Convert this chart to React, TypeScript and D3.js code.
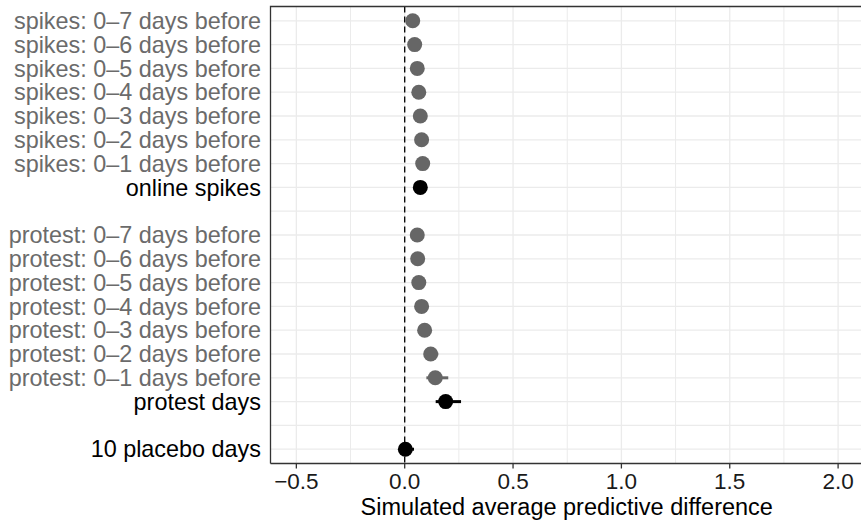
import { useRef, useEffect } from 'react';
import * as d3 from 'd3';

// rows top to bottom; "" marks an empty spacer row
const rowLabels = [
  "spikes: 0–7 days before",
  "spikes: 0–6 days before",
  "spikes: 0–5 days before",
  "spikes: 0–4 days before",
  "spikes: 0–3 days before",
  "spikes: 0–2 days before",
  "spikes: 0–1 days before",
  "online spikes",
  "",
  "protest: 0–7 days before",
  "protest: 0–6 days before",
  "protest: 0–5 days before",
  "protest: 0–4 days before",
  "protest: 0–3 days before",
  "protest: 0–2 days before",
  "protest: 0–1 days before",
  "protest days",
  "",
  "10 placebo days",
];
const estimates = [0.037, 0.046, 0.058, 0.065, 0.072, 0.078, 0.083, 0.072, null,
  0.058, 0.060, 0.065, 0.078, 0.092, 0.120, 0.141, 0.189, null, 0.003];
const lower = [0.015, 0.025, 0.035, 0.042, 0.050, 0.055, 0.060, 0.050, null,
  0.035, 0.038, 0.042, 0.052, 0.065, 0.090, 0.100, 0.143, null, -0.025];
const upper = [0.060, 0.068, 0.080, 0.088, 0.095, 0.100, 0.110, 0.095, null,
  0.082, 0.085, 0.090, 0.105, 0.120, 0.155, 0.201, 0.260, null, 0.043];
// which rows are the main (black) estimates
const isMain = [false, false, false, false, false, false, false, true, false,
  false, false, false, false, false, false, false, true, false, true];
const xTicks = [-0.5, 0, 0.5, 1.0, 1.5, 2.0];
const xMinor = [-0.25, 0.25, 0.75, 1.25, 1.75];
const xTitle = "Simulated average predictive difference";

const W = 861;
const H = 524;

const App = () => {
  const ref = useRef(null);

  useEffect(() => {
    d3.select(ref.current).selectAll("*").remove();
    const svg = d3.select(ref.current);

    const left = 270.5;
    const right = 863;
    const top = 6.5;
    const bottom = 463.5;
    const font = "'Liberation Sans', Arial, Helvetica, sans-serif";

    // 0 sits at 404.7 and 1 unit is ~216.7px
    const unit = 216.7;
    const x = d3.scaleLinear()
      .domain([(left - 404.7) / unit, (right - 404.7) / unit])
      .range([left, right]);

    const y = d3.scalePoint()
      .domain(d3.range(rowLabels.length).map(String))
      .range([top, bottom])
      .padding(0.6);

    svg.append("rect")
      .attr("x", left).attr("y", top)
      .attr("width", right - left).attr("height", bottom - top)
      .attr("fill", "#fff");

    // grid
    const grid = svg.append("g");
    grid.selectAll(".minor")
      .data(xMinor)
      .join("line")
      .attr("x1", d => x(d)).attr("x2", d => x(d))
      .attr("y1", top).attr("y2", bottom)
      .attr("stroke", "#ebebeb").attr("stroke-width", 1);
    grid.selectAll(".major")
      .data(xTicks)
      .join("line")
      .attr("x1", d => x(d)).attr("x2", d => x(d))
      .attr("y1", top).attr("y2", bottom)
      .attr("stroke", "#ebebeb").attr("stroke-width", 1.3);
    grid.selectAll(".hgrid")
      .data(rowLabels.map((_, i) => i))
      .join("line")
      .attr("x1", left).attr("x2", right)
      .attr("y1", i => y(String(i))).attr("y2", i => y(String(i)))
      .attr("stroke", "#ebebeb").attr("stroke-width", 1.3);

    // reference line at zero
    svg.append("line")
      .attr("x1", x(0)).attr("x2", x(0))
      .attr("y1", top).attr("y2", bottom)
      .attr("stroke", "#000")
      .attr("stroke-width", 1.3)
      .attr("stroke-dasharray", "6,4");

    const rows = rowLabels
      .map((label, i) => ({ label, i, est: estimates[i], lo: lower[i], hi: upper[i], main: isMain[i] }))
      .filter(d => d.est !== null);

    // intervals
    svg.append("g")
      .selectAll("line")
      .data(rows)
      .join("line")
      .attr("x1", d => x(d.lo)).attr("x2", d => x(d.hi))
      .attr("y1", d => y(String(d.i))).attr("y2", d => y(String(d.i)))
      .attr("stroke", d => d.main ? "#000" : "#666666")
      .attr("stroke-width", 3);

    // points
    svg.append("g")
      .selectAll("circle")
      .data(rows)
      .join("circle")
      .attr("cx", d => x(d.est))
      .attr("cy", d => y(String(d.i)))
      .attr("r", 7.5)
      .attr("fill", d => d.main ? "#000" : "#666666");

    // panel border (left, top) and axis line
    svg.append("path")
      .attr("d", `M${left},${bottom}V${top}H${right}`)
      .attr("fill", "none")
      .attr("stroke", "#333333")
      .attr("stroke-width", 1.3);
    svg.append("line")
      .attr("x1", left).attr("x2", right)
      .attr("y1", bottom).attr("y2", bottom)
      .attr("stroke", "#333333")
      .attr("stroke-width", 1.3);

    // x ticks
    const xt = svg.append("g")
      .attr("font-family", font)
      .attr("font-size", 22.5);
    xt.selectAll("line")
      .data(xTicks)
      .join("line")
      .attr("x1", d => x(d)).attr("x2", d => x(d))
      .attr("y1", bottom).attr("y2", bottom + 5)
      .attr("stroke", "#333333").attr("stroke-width", 1.3);
    xt.selectAll("text")
      .data(xTicks)
      .join("text")
      .attr("x", d => x(d))
      .attr("y", 489)
      .attr("text-anchor", "middle")
      .attr("fill", "#1a1a1a")
      .text(d => d3.format(".1f")(d).replace("-", "−"));

    svg.append("text")
      .attr("x", (left + 861) / 2 + 1)
      .attr("y", 514.5)
      .attr("text-anchor", "middle")
      .attr("font-family", font)
      .attr("font-size", 23.5)
      .attr("fill", "#000")
      .text(xTitle);

    // y labels
    svg.append("g")
      .attr("font-family", font)
      .attr("font-size", 23.4)
      .selectAll("text")
      .data(rowLabels.map((label, i) => ({ label, i })).filter(d => d.label !== ""))
      .join("text")
      .attr("x", 261)
      .attr("y", d => y(String(d.i)))
      .attr("dy", "0.35em")
      .attr("text-anchor", "end")
      .attr("fill", d => isMain[d.i] ? "#000" : "#6b6b6b")
      .text(d => d.label);
  }, []);

  return (
    <svg ref={ref} width={W} height={H} style={{ display: "block", position: "absolute", left: 0, top: 0 }} />
  );
};

export default App;
